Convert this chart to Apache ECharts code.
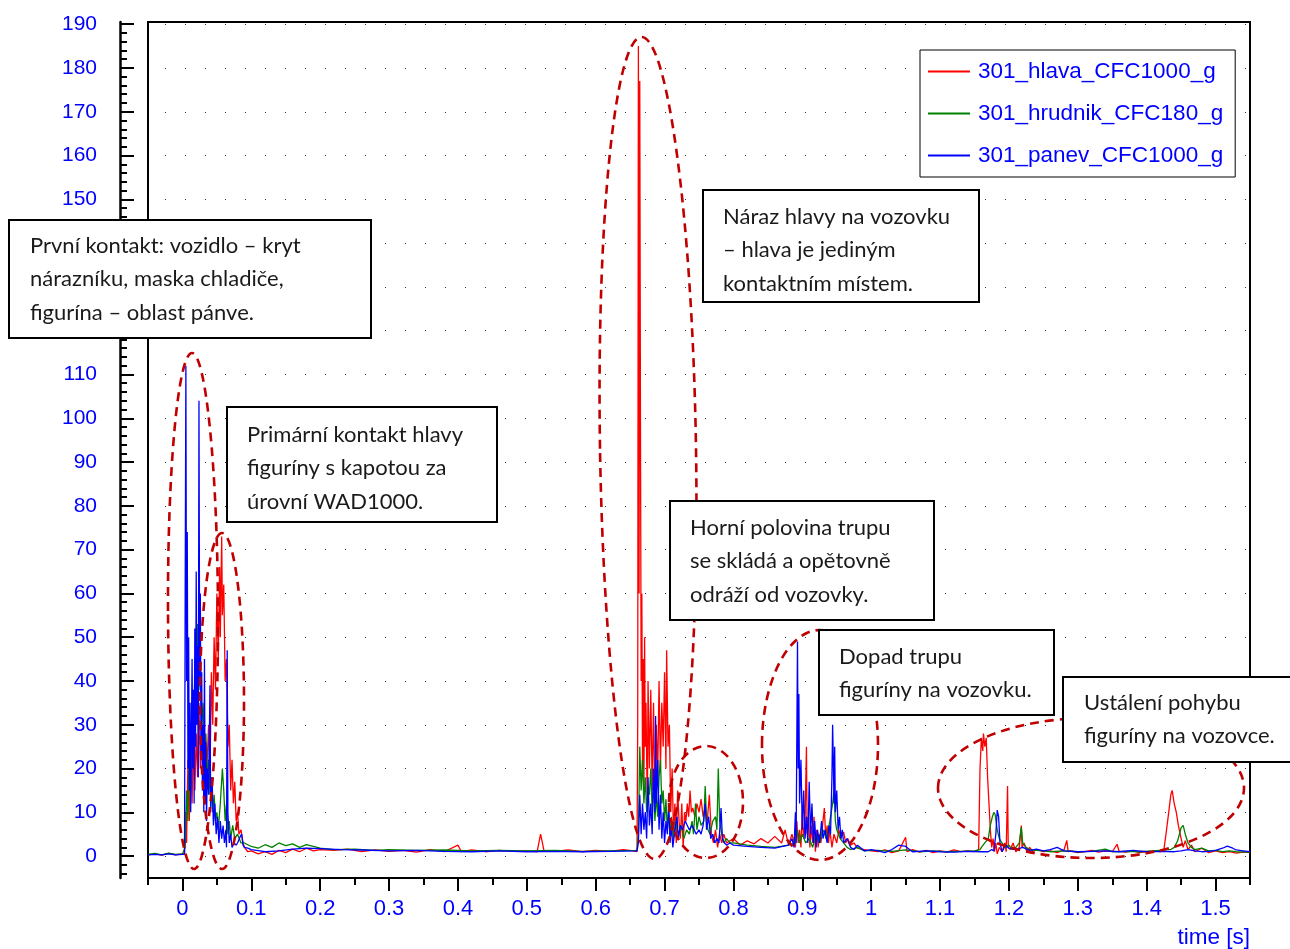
<!DOCTYPE html>
<html><head><meta charset="utf-8">
<script src="https://cdn.jsdelivr.net/npm/echarts@6/dist/echarts.min.js"></script>
<style>html,body{margin:0;padding:0;background:#fff}#c{width:1290px;height:949px}</style>
</head><body><div id="c"></div>
<script>
const seriesNames = ['301_hlava_CFC1000_g', '301_hrudnik_CFC180_g', '301_panev_CFC1000_g'];
const seriesColors = ['#ff0000', '#008000', '#0000ff'];

// [time s, acceleration g]
const hlava = [
[-0.05,0.3],[-0.04,0.5],[-0.03,0.2],[-0.02,0.6],[-0.01,0.3],[0,0.5],[0.003,0.5],
[0.005,10],[0.006,3],[0.008,22],[0.010,8],[0.012,25],[0.014,12],[0.016,30],[0.018,15],[0.020,28],[0.022,18],[0.024,35],[0.026,20],[0.028,30],[0.030,15],[0.032,25],[0.034,12],[0.036,22],[0.038,30],[0.040,18],[0.042,42],[0.044,30],[0.046,50],[0.048,38],[0.050,60],[0.052,45],[0.054,66],[0.055,50],[0.057,73],[0.058,55],[0.060,62],[0.062,40],[0.064,45],[0.066,25],[0.068,30],[0.070,15],[0.072,22],[0.074,12],[0.076,17],[0.078,8],[0.080,10],[0.082,5],[0.085,6],[0.088,3],[0.090,2],[0.095,1],
[0.1,1.2],[0.11,0.5],[0.12,1.0],[0.13,0.4],[0.14,1.3],[0.15,0.8],[0.16,1.6],[0.17,1.0],[0.18,1.8],[0.19,1.2],[0.2,1.5],[0.22,1.3],[0.24,1.6],[0.26,1.0],[0.28,1.4],[0.30,1.1],[0.32,1.3],[0.34,0.9],[0.36,1.5],[0.38,1.0],[0.40,2.5],[0.405,1.0],[0.42,1.4],[0.44,1.0],[0.46,1.3],[0.48,1.1],[0.50,1.2],[0.515,1.0],[0.52,5],[0.525,1.2],[0.54,1.1],[0.56,1.4],[0.58,1.0],[0.60,1.3],[0.62,1.1],[0.64,1.5],[0.655,1.2],[0.66,1.0],
[0.661,30],[0.662,185],[0.663,60],[0.664,177],[0.665,100],[0.666,40],[0.667,60],[0.668,20],[0.669,45],[0.670,15],[0.671,50],[0.672,25],[0.673,35],[0.675,10],[0.676,40],[0.678,20],[0.680,38],[0.682,15],[0.684,35],[0.686,12],[0.688,30],[0.690,18],[0.692,40],[0.694,20],[0.696,35],[0.698,25],[0.700,42],[0.702,20],[0.703,47],[0.705,25],[0.707,30],[0.709,10],[0.711,20],[0.713,5],[0.715,12],[0.717,3],[0.719,15],[0.721,8],[0.723,4],[0.725,12],[0.727,2],[0.729,10],[0.731,8],[0.733,12],[0.735,9],[0.737,15],[0.739,10],[0.741,11],[0.744,9],[0.747,12],[0.750,10],[0.753,13],[0.756,9],[0.759,11],[0.762,8],[0.765,14],[0.768,5],[0.771,3],[0.774,6],[0.777,2],[0.780,5],[0.783,3],[0.786,5],[0.79,3],
[0.80,4],[0.81,2.5],[0.82,3.5],[0.83,2.8],[0.84,4],[0.85,3],[0.86,4.5],[0.87,3],[0.875,6],[0.88,2.5],[0.885,5],[0.89,2],
[0.892,8],[0.894,3],[0.896,6],[0.898,2],[0.900,10],[0.902,4],[0.904,8],[0.906,25],[0.907,5],[0.909,9],[0.911,2],[0.913,7],[0.915,3],[0.917,9],[0.919,1],[0.921,6],[0.923,2],[0.925,5],[0.927,3],[0.93,8],[0.932,11],[0.934,4],[0.936,7],[0.938,3],[0.940,6],[0.943,2],[0.946,5],[0.95,3],[0.953,6],[0.956,4],[0.96,5.5],[0.963,3],[0.966,4],[0.97,2.5],[0.975,3],[0.98,1.8],[0.99,1.5],[1.0,1.2],
[1.01,1.0],[1.02,1.4],[1.03,0.8],[1.04,1.2],[1.05,4.3],[1.052,1.0],[1.06,1.5],[1.07,0.9],[1.08,1.3],[1.09,0.8],[1.1,1.2],[1.11,0.9],[1.12,1.4],[1.13,1.0],[1.14,1.2],[1.15,1.0],[1.156,1.5],
[1.158,20],[1.16,27],[1.162,24],[1.163,28],[1.165,25],[1.167,27],[1.169,18],[1.171,12],[1.173,6],[1.175,2],[1.177,4],[1.179,1],[1.181,3],[1.183,0.5],[1.186,2],[1.19,1],[1.194,3],[1.196,1],[1.198,16],[1.199,2],[1.202,1.5],[1.206,3],[1.21,1],[1.215,2],[1.218,7],[1.219,2],[1.222,3],[1.226,1],[1.23,2],[1.235,1],[1.24,1.5],[1.25,1.0],
[1.26,1.2],[1.27,0.8],[1.28,1.4],[1.284,3.6],[1.286,1.0],[1.29,1.2],[1.3,0.8],[1.31,1.0],[1.32,1.3],[1.33,0.9],[1.34,1.2],[1.35,1.0],[1.357,2.7],[1.36,1.1],[1.37,0.9],[1.38,1.2],[1.39,0.8],[1.4,1.0],[1.41,1.2],[1.42,1.0],[1.425,1.5],
[1.428,5],[1.432,10],[1.435,14],[1.437,15],[1.44,12],[1.443,10],[1.446,7],[1.45,4],[1.453,2],[1.456,3.5],[1.46,1.5],[1.465,2.5],[1.47,1],[1.48,1.8],[1.49,0.8],[1.5,1.2],[1.51,0.8],[1.52,1.0],[1.53,0.7],[1.54,0.9],[1.55,0.8]
];

const hrudnik = [
[-0.05,0.4],[-0.04,0.6],[-0.03,0.3],[-0.02,0.7],[-0.01,0.4],[0,0.5],[0.004,2],
[0.006,15],[0.008,8],[0.010,25],[0.012,15],[0.014,35],[0.016,22],[0.018,45],[0.020,30],[0.022,53],[0.024,38],[0.026,45],[0.028,30],[0.030,35],[0.032,25],[0.034,28],[0.036,18],[0.038,22],[0.040,14],[0.042,18],[0.044,10],[0.046,14],[0.048,8],[0.050,10],[0.052,6],[0.055,12],[0.058,20],[0.060,15],[0.062,8],[0.064,12],[0.066,5],[0.068,8],[0.070,4],[0.073,7],[0.076,4],[0.08,5],[0.085,3],[0.09,3],
[0.1,2.2],[0.11,1.8],[0.12,2.6],[0.13,2.0],[0.14,3.0],[0.15,2.4],[0.16,2.8],[0.17,2.0],[0.18,2.6],[0.19,2.2],[0.2,1.8],[0.22,1.5],[0.25,1.6],[0.28,1.3],[0.3,1.5],[0.34,1.3],[0.38,1.4],[0.42,1.2],[0.46,1.3],[0.5,1.2],[0.54,1.3],[0.58,1.1],[0.62,1.2],[0.66,1.3],
[0.662,5],[0.664,25],[0.666,15],[0.668,22],[0.670,12],[0.672,18],[0.674,10],[0.676,16],[0.678,14],[0.680,20],[0.682,10],[0.684,17],[0.686,8],[0.688,14],[0.690,9],[0.692,18],[0.694,22],[0.696,12],[0.698,15],[0.700,8],[0.702,13],[0.704,6],[0.706,10],[0.708,5],[0.71,9],[0.713,4],[0.716,8],[0.72,5],[0.724,7],[0.728,4],[0.732,6],[0.736,5],[0.74,8],[0.742,5],[0.745,12],[0.747,6],[0.75,9],[0.753,7],[0.757,8],[0.759,16],[0.761,8],[0.763,6],[0.766,5],[0.77,8],[0.774,9],[0.776,6],[0.778,20],[0.78,8],[0.783,5],[0.786,3],[0.79,4],[0.795,3],
[0.8,3],[0.82,2.5],[0.84,2.2],[0.86,2.0],[0.88,2.5],
[0.89,3],[0.893,6],[0.896,3],[0.9,5],[0.905,3],[0.91,4],[0.915,2],[0.92,5],[0.925,3],[0.93,6],[0.935,4],[0.94,8],[0.944,12],[0.946,15],[0.948,8],[0.95,6],[0.955,4],[0.96,3],[0.965,2],[0.97,1.5],[0.98,2],[0.99,1.2],[1.0,1.3],
[1.01,1.3],[1.03,1.1],[1.05,1.4],[1.07,1.0],[1.09,1.2],[1.11,1.0],[1.13,1.1],[1.15,1.2],[1.158,1.5],
[1.16,2],[1.165,3],[1.17,4],[1.173,7],[1.176,9],[1.178,10],[1.18,9.5],[1.183,6],[1.186,4],[1.19,3],[1.195,2],[1.2,2.5],[1.205,1.5],[1.21,2],[1.215,3],[1.218,6.6],[1.22,3],[1.225,2],[1.23,1.5],[1.24,1.3],[1.25,1.2],
[1.26,1.0],[1.28,1.2],[1.3,1.0],[1.32,1.1],[1.34,1.6],[1.35,1.0],[1.37,1.1],[1.39,1.0],[1.41,1.2],[1.43,1.5],
[1.435,1.5],[1.44,2.0],[1.445,3.5],[1.45,6.5],[1.453,7],[1.456,5],[1.46,3],[1.465,2],[1.47,1.5],[1.48,1.8],[1.49,1.2],[1.5,1.3],[1.51,1.0],[1.52,1.2],[1.53,1.0],[1.55,0.9]
];

const panev = [
[-0.05,0.3],[-0.04,0.4],[-0.03,0.3],[-0.02,0.5],[-0.01,0.3],[0,0.4],[0.003,0.4],
[0.004,60],[0.005,112],[0.006,40],[0.007,74],[0.008,20],[0.009,50],[0.010,15],[0.011,35],[0.012,10],[0.013,28],[0.014,45],[0.015,20],[0.016,38],[0.017,12],[0.018,52],[0.019,25],[0.020,65],[0.021,30],[0.022,48],[0.023,18],[0.024,104],[0.025,40],[0.026,60],[0.027,22],[0.028,42],[0.029,15],[0.030,30],[0.031,10],[0.032,45],[0.033,12],[0.034,26],[0.035,8],[0.036,20],[0.038,14],[0.040,39],[0.041,10],[0.043,18],[0.045,7],[0.047,12],[0.049,5],[0.051,9],[0.053,3],[0.055,8],[0.057,4],[0.059,7],[0.061,3],[0.063,6],[0.064,2],[0.065,47],[0.066,10],[0.068,3],[0.070,5],[0.072,2],[0.075,3],[0.078,2.5],[0.080,3],[0.084,4.5],[0.086,5],[0.088,2.5],[0.090,2],[0.095,1.8],
[0.1,1.5],[0.12,1.0],[0.14,1.2],[0.16,1.6],[0.18,1.8],[0.2,1.7],[0.23,1.5],[0.26,1.4],[0.3,1.2],[0.34,1.3],[0.38,1.1],[0.42,1.0],[0.46,1.2],[0.5,1.0],[0.54,1.1],[0.58,1.0],[0.62,1.1],[0.66,1.2],
[0.662,3],[0.664,14],[0.666,5],[0.668,12],[0.670,6],[0.672,10],[0.674,4],[0.676,18],[0.678,7],[0.680,12],[0.682,5],[0.684,20],[0.686,10],[0.687,32],[0.688,12],[0.690,22],[0.692,6],[0.694,14],[0.696,4],[0.698,10],[0.700,3],[0.702,8],[0.704,5],[0.706,12],[0.708,3],[0.71,7],[0.712,2],[0.715,6],[0.718,9],[0.72,4],[0.723,7],[0.726,6],[0.73,8],[0.733,7],[0.736,6],[0.74,7],[0.743,6],[0.746,5],[0.75,6],[0.753,5],[0.756,7],[0.759,12],[0.761,6],[0.764,9],[0.767,4],[0.77,5],[0.773,3],[0.776,4],[0.779,3],[0.782,11],[0.784,4],[0.787,3],[0.79,2.5],[0.795,3],
[0.8,2.5],[0.82,2.2],[0.84,2.0],[0.86,1.8],[0.88,2.5],
[0.885,4],[0.888,2],[0.890,10],[0.891,3],[0.893,49],[0.894,20],[0.895,37],[0.896,12],[0.898,22],[0.900,6],[0.902,15],[0.904,4],[0.906,9],[0.908,3],[0.910,17],[0.912,5],[0.914,12],[0.916,3],[0.918,8],[0.920,2],[0.922,6],[0.925,3],[0.928,8],[0.930,4],[0.933,6],[0.936,3],[0.939,7],[0.941,5],[0.943,18],[0.944,30],[0.945,22],[0.946,12],[0.947,25],[0.948,10],[0.950,15],[0.952,6],[0.954,9],[0.956,4],[0.958,6],[0.960,3],[0.965,4],[0.97,2],[0.975,1.5],[0.98,2.5],[0.99,1.2],[1.0,1.5],
[1.01,1.2],[1.02,0.8],[1.03,1.5],[1.04,2.5],[1.05,2.2],[1.06,1.0],[1.08,1.2],[1.1,1.0],[1.12,0.9],[1.14,1.1],[1.16,1.0],
[1.17,1.0],[1.175,1.5],[1.178,1.2],[1.181,5],[1.183,10.5],[1.185,9],[1.187,3],[1.19,1],[1.195,2.5],[1.2,1.8],[1.21,1.5],[1.22,2.0],[1.23,1.3],[1.24,1.6],[1.25,1.2],
[1.26,1.5],[1.27,2.0],[1.28,1.2],[1.3,1.0],[1.32,1.1],[1.34,1.2],[1.36,1.0],[1.38,1.3],[1.4,1.0],[1.42,1.1],
[1.44,1.0],[1.45,1.2],[1.46,1.5],[1.47,1.2],[1.48,1.0],[1.49,1.1],[1.5,1.3],[1.51,1.8],[1.517,2.3],[1.525,1.8],[1.53,1.4],[1.54,1.2],[1.55,1.0]
];

const yTickValues = [0,10,20,30,40,50,60,70,80,90,100,110,120,130,140,150,160,170,180,190];
const xTickValues = [0,0.1,0.2,0.3,0.4,0.5,0.6,0.7,0.8,0.9,1,1.1,1.2,1.3,1.4,1.5];
const xAxisName = 'time [s]';

const annotations = [
  {box:[9,220,362,118], text:['První kontakt: vozidlo – kryt','nárazníku, maska chladiče,','figurína – oblast pánve.'], tx:30, ty:229},
  {box:[227,407,270,115], text:['Primární kontakt hlavy','figuríny s kapotou za','úrovní WAD1000.'], tx:247, ty:418},
  {box:[703,190,276,112], text:['Náraz hlavy na vozovku','– hlava je jediným','kontaktním místem.'], tx:723, ty:200},
  {box:[670,501,264,119], text:['Horní polovina trupu','se skládá a opětovně','odráží od vozovky.'], tx:690, ty:511},
  {box:[819,630,235,85], text:['Dopad trupu','figuríny na vozovku.'], tx:839, ty:640},
  {box:[1063,677,230,85], text:['Ustálení pohybu','figuríny na vozovce.'], tx:1084, ty:686}
];
const ellipses = [
  {c:[193,611], r:[25,258], rot:0.004},
  {c:[222,701], r:[22,168], rot:0},
  {c:[648,448], r:[48,411], rot:0.016},
  {c:[706,802], r:[37,56], rot:0},
  {c:[820,745], r:[58,115], rot:0},
  {c:[1091,788], r:[153,70], rot:0}
];

const yMinor = [], xMinor = [];
for (let v = -4; v <= 190; v += 2) if (v % 10 !== 0) yMinor.push(v);
for (let i = 0; i <= 16; i++) xMinor.push(+(-0.05 + 0.1 * i).toFixed(2));

const chart = echarts.init(document.getElementById('c'), null, {renderer: 'canvas'});
const blue = '#0000ff';
const axisFont = 'Liberation Sans';

const graphics = [];
ellipses.forEach(e => graphics.push({
  type: 'ellipse', x: e.c[0], y: e.c[1], rotation: e.rot, z: 100,
  shape: {cx: 0, cy: 0, rx: e.r[0], ry: e.r[1]},
  style: {fill: null, stroke: '#c00000', lineWidth: 2.6, lineDash: [9, 6]}
}));
annotations.forEach(a => {
  graphics.push({type: 'rect', z: 110, shape: {x: a.box[0], y: a.box[1], width: a.box[2], height: a.box[3]},
    style: {fill: '#fff', stroke: '#000', lineWidth: 2}});
  graphics.push({type: 'text', z: 111, x: a.tx, y: a.ty,
    style: {text: a.text.join('\n'), font: '22px Lato', lineHeight: 33.5, fill: '#1a1a1a', verticalAlign: 'top'}});
});
graphics.push({type: 'text', z: 111, x: 1250, y: 938,
  style: {text: xAxisName, font: '22.5px "Liberation Sans"', fill: blue, align: 'right', verticalAlign: 'middle'}});

chart.setOption({
  animation: false,
  backgroundColor: '#fff',
  grid: {left: 148, right: 40, top: 22, bottom: 71, show: true, borderColor: '#000', borderWidth: 2, backgroundColor: 'transparent'},
  legend: {
    orient: 'vertical', left: 920, top: 50, padding: [10, 12, 10, 8], itemGap: 19,
    itemWidth: 42, itemHeight: 2, icon: 'rect', backgroundColor: '#fff', borderColor: '#000', borderWidth: 1,
    textStyle: {color: blue, fontSize: 22.5, fontFamily: axisFont, padding: [0, 0, 0, 3]},
    data: seriesNames
  },
  xAxis: [
    {type: 'value', min: -0.05, max: 1.55, position: 'bottom',
     axisLine: {show: true, onZero: false, lineStyle: {color: '#000', width: 2}},
     axisTick: {show: true, customValues: xTickValues, length: 13, lineStyle: {color: '#000', width: 2}},
     axisLabel: {customValues: xTickValues, color: blue, fontSize: 22, fontFamily: axisFont, margin: 20,
       formatter: v => String(+(+v).toFixed(2))},
     splitLine: {show: false}},
    {type: 'value', min: -0.05, max: 1.55, position: 'bottom',
     axisLine: {show: false, onZero: false},
     axisTick: {show: true, customValues: xMinor, length: 7, lineStyle: {color: '#000', width: 2}},
     axisLabel: {show: false}, splitLine: {show: false}}
  ],
  yAxis: [
    {type: 'value', min: -5, max: 190.5, position: 'left', offset: 28,
     axisLine: {show: true, onZero: false, lineStyle: {color: '#000', width: 2.5}},
     axisTick: {show: true, inside: true, customValues: yTickValues, length: 14, lineStyle: {color: '#000', width: 2}},
     axisLabel: {customValues: yTickValues, color: blue, fontSize: 21, fontFamily: axisFont, margin: 23},
     splitLine: {show: true, lineStyle: {color: '#333', width: 1, type: [1, 19], dashOffset: 3}}},
    {type: 'value', min: -5, max: 190.5, position: 'left', offset: 28,
     axisLine: {show: false, onZero: false},
     axisTick: {show: true, inside: true, customValues: yMinor, length: 7, lineStyle: {color: '#000', width: 2}},
     axisLabel: {show: false}, splitLine: {show: false}}
  ],
  series: [hlava, hrudnik, panev].map((d, i) => ({
    name: seriesNames[i], type: 'line', data: d, xAxisIndex: 0, yAxisIndex: 0,
    symbol: 'none', showSymbol: false, sampling: null,
    lineStyle: {color: seriesColors[i], width: 1.3}, itemStyle: {color: seriesColors[i]}
  })),
  graphic: graphics
});
</script></body></html>
